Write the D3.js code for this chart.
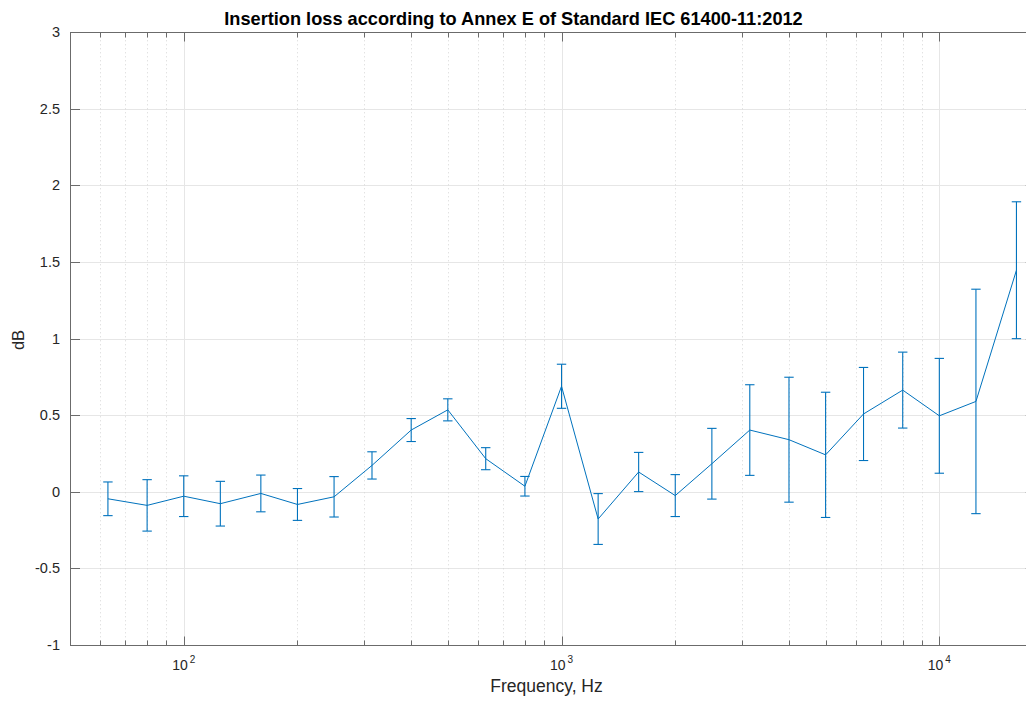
<!DOCTYPE html>
<html>
<head>
<meta charset="utf-8">
<script src="https://cdn.jsdelivr.net/npm/d3@7"></script>
<style>
  html, body { margin: 0; padding: 0; background: #fff; }
  svg { display: block; font-family: "Liberation Sans", Arial, Helvetica, sans-serif; }
</style>
</head>
<body>
<svg id="chart" width="1026" height="701"></svg>
<script>
// One-third-octave band centre frequencies, Hz
const frequencies = [63, 80, 100, 125, 160, 200, 250, 315, 400, 500, 630, 800,
  1000, 1250, 1600, 2000, 2500, 3150, 4000, 5000, 6300, 8000, 10000, 12500, 16000];

// Mean insertion loss per band, dB
const insertionLoss = [-0.047, -0.090, -0.030, -0.079, -0.012, -0.084, -0.034, 0.171,
  0.402, 0.534, 0.215, 0.035, 0.688, -0.179, 0.128, -0.026, 0.182, 0.402, 0.339,
  0.240, 0.507, 0.663, 0.495, 0.589, 1.446];

// Symmetric uncertainty (error bar half-length), dB
const uncertainty = [0.110, 0.168, 0.133, 0.146, 0.120, 0.104, 0.132, 0.089,
  0.075, 0.072, 0.072, 0.064, 0.144, 0.166, 0.128, 0.137, 0.231, 0.296, 0.408,
  0.409, 0.304, 0.248, 0.375, 0.733, 0.447];

const yTicks = [-1, -0.5, 0, 0.5, 1, 1.5, 2, 2.5, 3];
const xMajorTicks = [100, 1000, 10000];
const xMinorTicks = [60, 70, 80, 90, 200, 300, 400, 500, 600, 700, 800, 900,
  2000, 3000, 4000, 5000, 6000, 7000, 8000, 9000];

const titleText = "Insertion loss according to Annex E of Standard IEC 61400-11:2012";
const xLabelText = "Frequency, Hz";
const yLabelText = "dB";

(function draw() {
  const svg = d3.select("#chart");
  const plotLeft = 70, plotTop = 32.3, plotBottom = 644.7;
  const decade = 377.8;
  const xDomain = [50, 18000];
  const plotRight = plotLeft + Math.log10(xDomain[1] / xDomain[0]) * decade;

  const x = d3.scaleLog().domain(xDomain).range([plotLeft, plotRight]);
  const y = d3.scaleLinear().domain([-1, 3]).range([plotBottom, plotTop]);

  const blue = "#0072bd";
  const axisColor = "#6b6b6b";
  const textColor = "#262626";

  svg.append("rect").attr("width", 1026).attr("height", 701).attr("fill", "#fff");

  // Grid
  const grid = svg.append("g");
  grid.selectAll("line.ygrid").data(yTicks).join("line")
    .attr("x1", plotLeft).attr("x2", plotRight)
    .attr("y1", d => Math.round(y(d)) + 0.5).attr("y2", d => Math.round(y(d)) + 0.5)
    .attr("stroke", "#e6e6e6").attr("stroke-width", 1);
  grid.selectAll("line.xminor").data(xMinorTicks).join("line")
    .attr("x1", d => Math.round(x(d)) + 0.5).attr("x2", d => Math.round(x(d)) + 0.5)
    .attr("y1", plotTop).attr("y2", plotBottom)
    .attr("stroke", "#d6d6d6").attr("stroke-width", 1).attr("stroke-dasharray", "1,3");
  grid.selectAll("line.xmajor").data(xMajorTicks).join("line")
    .attr("x1", d => Math.round(x(d)) + 0.5).attr("x2", d => Math.round(x(d)) + 0.5)
    .attr("y1", plotTop).attr("y2", plotBottom)
    .attr("stroke", "#e6e6e6").attr("stroke-width", 1);

  // Axes box with inward ticks
  const axes = svg.append("g").attr("stroke", axisColor).attr("stroke-width", 1).attr("fill", "none");
  axes.append("rect")
    .attr("x", plotLeft + 0.5).attr("y", Math.round(plotTop) + 0.5)
    .attr("width", plotRight - plotLeft).attr("height", Math.round(plotBottom) - Math.round(plotTop));

  const yb = Math.round(plotBottom) + 0.5, yt = Math.round(plotTop) + 0.5;
  [[xMajorTicks, 9], [xMinorTicks, 5]].forEach(([ticks, len]) => {
    ticks.forEach(t => {
      const px = Math.round(x(t)) + 0.5;
      axes.append("line").attr("x1", px).attr("x2", px).attr("y1", yb).attr("y2", yb - len);
      axes.append("line").attr("x1", px).attr("x2", px).attr("y1", yt).attr("y2", yt + len);
    });
  });
  yTicks.forEach(t => {
    const py = Math.round(y(t)) + 0.5;
    axes.append("line").attr("x1", plotLeft).attr("x2", plotLeft + 10).attr("y1", py).attr("y2", py);
    axes.append("line").attr("x1", plotRight).attr("x2", plotRight - 10).attr("y1", py).attr("y2", py);
  });

  // Tick labels
  svg.append("g").selectAll("text").data(yTicks).join("text")
    .attr("x", plotLeft - 10).attr("y", d => y(d) + 5)
    .attr("text-anchor", "end").attr("font-size", 14.5).attr("fill", textColor)
    .text(d => String(d));

  const xl = svg.append("g");
  xMajorTicks.forEach(t => {
    const txt = xl.append("text").attr("x", x(t)).attr("y", 670)
      .attr("text-anchor", "middle").attr("font-size", 14).attr("fill", textColor);
    txt.append("tspan").text("10");
    txt.append("tspan").attr("dy", -7).attr("font-size", 10).attr("dx", 2)
      .text(String(Math.round(Math.log10(t))));
  });

  // Axis labels and title
  svg.append("text").attr("x", 546.5).attr("y", 692).attr("text-anchor", "middle")
    .attr("font-size", 17.5).attr("fill", textColor).text(xLabelText);
  svg.append("text").attr("transform", "translate(24,340) rotate(-90)").attr("text-anchor", "middle")
    .attr("font-size", 16.5).attr("fill", textColor).text(yLabelText);
  svg.append("text").attr("x", 513.5).attr("y", 25).attr("text-anchor", "middle")
    .attr("font-size", 18.2).attr("font-weight", "bold").attr("fill", "#000").text(titleText);

  // Data line and error bars
  const points = frequencies.map((f, i) => ({ f, v: insertionLoss[i], e: uncertainty[i] }));

  svg.append("path").datum(points)
    .attr("fill", "none").attr("stroke", blue).attr("stroke-width", 1)
    .attr("d", d3.line().x(d => x(d.f)).y(d => y(d.v)));

  const bars = svg.append("g").attr("stroke", blue).attr("stroke-width", 1.1).attr("fill", "none");
  const capHalf = 4.7;
  points.forEach(d => {
    const px = x(d.f), yHi = y(d.v + d.e), yLo = y(d.v - d.e);
    bars.append("line").attr("x1", px).attr("x2", px).attr("y1", yHi).attr("y2", yLo);
    bars.append("line").attr("x1", px - capHalf).attr("x2", px + capHalf).attr("y1", yHi).attr("y2", yHi);
    bars.append("line").attr("x1", px - capHalf).attr("x2", px + capHalf).attr("y1", yLo).attr("y2", yLo);
  });
})();
</script>
</body>
</html>
